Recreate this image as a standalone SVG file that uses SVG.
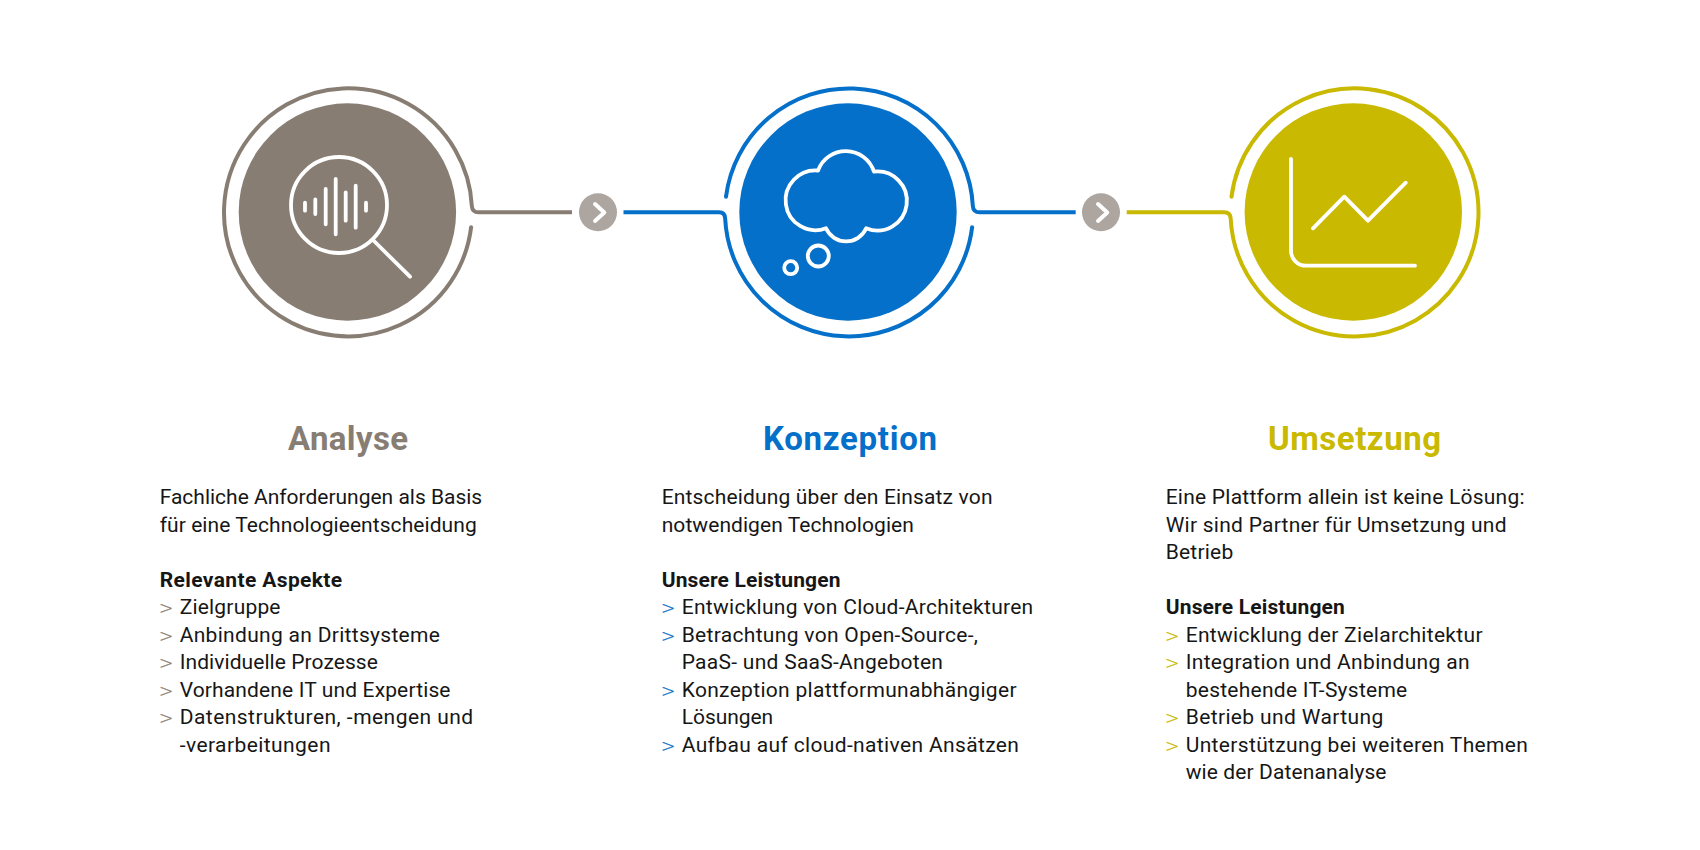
<svg xmlns="http://www.w3.org/2000/svg" width="1700" height="850" viewBox="0 0 1700 850">
<style>
text{font-family:Roboto,"Liberation Sans",sans-serif;font-size:21px;fill:#161616}
.h{font-size:33px;font-weight:700;text-anchor:middle}
.b{font-weight:700}
.m{font-family:"DejaVu Sans",sans-serif;font-weight:200;font-size:17px;stroke-width:.35}
.br{fill:#887d73;stroke:#887d73}.bl{fill:#0570c9;stroke:#0570c9}.ol{fill:#c9b900;stroke:#c9b900}
.h.br,.h.bl,.h.ol{stroke:none}
.ring{fill:none;stroke-width:4;stroke-linejoin:round}
.ic{fill:none;stroke:#fff;stroke-width:3.8;stroke-linecap:round;stroke-linejoin:round}
.chev{fill:none;stroke:#fff;stroke-width:4;stroke-linecap:round;stroke-linejoin:round}
</style>
<rect width="1700" height="850" fill="#fff"/>
<g id="connectors">
<path class="ring" stroke="#887d73" d="M471.1 227.3A124 124 0 1 1 471.84 206Q472.3 212.3 478.5 212.3H572"/>
<path class="ring" stroke="#0570c9" d="M726 196.7A124 124 0 0 1 972.84 206Q973.3 212.3 979.5 212.3H1075.7"/>
<path class="ring" stroke="#0570c9" d="M623.5 212.3H719Q724.9 212.3 725.15 218.5A124 124 0 0 0 972.1 227.3"/>
<path class="ring" stroke="#c9b900" d="M1126.7 212.3H1224Q1230.3 212.3 1230.65 218.5A124 124 0 1 0 1231.5 196.7"/>
<circle cx="471.1" cy="227.3" r="2" fill="#887d73"/>
<circle cx="726" cy="196.7" r="2" fill="#0570c9"/>
<circle cx="972.1" cy="227.3" r="2" fill="#0570c9"/>
<circle cx="1231.5" cy="196.7" r="2" fill="#c9b900"/>
</g>
<g id="next-1">
<circle cx="598" cy="212.3" r="19" fill="#ada59f"/>
<path class="chev" d="M595 204L604.3 212.5L595 221"/>
</g>
<g id="next-2">
<circle cx="1101" cy="212.3" r="19" fill="#ada59f"/>
<path class="chev" d="M1098 204L1107.3 212.5L1098 221"/>
</g>
<g id="analyse">
<circle cx="347.4" cy="212" r="108.7" fill="#887d73"/>
<circle class="ic" cx="339" cy="205" r="48"/>
<path class="ic" d="M374 241L410 276.7M305 202.7V210.7M315.3 199.3V214M325.7 189V224.3M335.7 179V234.3M345.7 192.3V220.7M355.7 185.7V227.7M366 202.7V210.7"/>
<text class="h br" x="348" y="449.8" textLength="120">Analyse</text>
<text x="159.7" y="504" textLength="322.5">Fachliche Anforderungen als Basis</text>
<text x="159.7" y="531.5" textLength="317">für eine Technologieentscheidung</text>
<text class="b" x="159.7" y="586.5" textLength="182.5">Relevante Aspekte</text>
<text class="m br" x="159" y="614">&gt;</text>
<text class="m br" x="159" y="641.5">&gt;</text>
<text class="m br" x="159" y="669">&gt;</text>
<text class="m br" x="159" y="696.5">&gt;</text>
<text class="m br" x="159" y="724">&gt;</text>
<text x="179.7" y="614" textLength="100.8">Zielgruppe</text>
<text x="179.7" y="641.5" textLength="260.2">Anbindung an Drittsysteme</text>
<text x="179.7" y="669" textLength="198.2">Individuelle Prozesse</text>
<text x="179.7" y="696.5" textLength="270.8">Vorhandene IT und Expertise</text>
<text x="179.7" y="724" textLength="293.5">Datenstrukturen, -mengen und</text>
<text x="179.7" y="751.5" textLength="150.8">-verarbeitungen</text>
</g>
<g id="konzeption">
<circle cx="848" cy="212" r="108.7" fill="#0570c9"/>
<path class="ic" d="M818 170.5A29.6 29.6 0 0 1 874 171.7A29.5 29.5 0 1 1 866.2 228.3A22 22 0 0 1 826 228.3A29.9 29.9 0 1 1 818 170.5Z"/>
<circle class="ic" cx="818.3" cy="256" r="10.5"/>
<circle class="ic" cx="790.7" cy="267.7" r="6.5"/>
<text class="h bl" x="850" y="449.8" textLength="174">Konzeption</text>
<text x="661.7" y="504" textLength="330.8">Entscheidung über den Einsatz von</text>
<text x="661.7" y="531.5" textLength="252.2">notwendigen Technologien</text>
<text class="b" x="661.7" y="586.5" textLength="178.8">Unsere Leistungen</text>
<text class="m bl" x="661" y="614">&gt;</text>
<text class="m bl" x="661" y="641.5">&gt;</text>
<text class="m bl" x="661" y="696.5">&gt;</text>
<text class="m bl" x="661" y="751.5">&gt;</text>
<text x="681.7" y="614" textLength="351.5">Entwicklung von Cloud-Architekturen</text>
<text x="681.7" y="641.5" textLength="296.2">Betrachtung von Open-Source-,</text>
<text x="681.7" y="669" textLength="261.2">PaaS- und SaaS-Angeboten</text>
<text x="681.7" y="696.5" textLength="334.8">Konzeption plattformunabhängiger</text>
<text x="681.7" y="724" textLength="91.5">Lösungen</text>
<text x="681.7" y="751.5" textLength="337.2">Aufbau auf cloud-nativen Ansätzen</text>
</g>
<g id="umsetzung">
<circle cx="1353.3" cy="212" r="108.7" fill="#c9b900"/>
<path class="ic" d="M1291 159V250.7A15 15 0 0 0 1306 265.7H1415M1313 228.3L1344.3 196.7L1368 220.7L1405.7 182.7"/>
<text class="h ol" x="1354.5" y="449.8" textLength="173">Umsetzung</text>
<text x="1165.7" y="504" textLength="358.8">Eine Plattform allein ist keine Lösung:</text>
<text x="1165.7" y="531.5" textLength="340.8">Wir sind Partner für Umsetzung und</text>
<text x="1165.7" y="559" textLength="67.5">Betrieb</text>
<text class="b" x="1165.7" y="614" textLength="179.2">Unsere Leistungen</text>
<text class="m ol" x="1165" y="641.5">&gt;</text>
<text class="m ol" x="1165" y="669">&gt;</text>
<text class="m ol" x="1165" y="724">&gt;</text>
<text class="m ol" x="1165" y="751.5">&gt;</text>
<text x="1185.7" y="641.5" textLength="296.8">Entwicklung der Zielarchitektur</text>
<text x="1185.7" y="669" textLength="283.8">Integration und Anbindung an</text>
<text x="1185.7" y="696.5" textLength="221.5">bestehende IT-Systeme</text>
<text x="1185.7" y="724" textLength="197.5">Betrieb und Wartung</text>
<text x="1185.7" y="751.5" textLength="342.2">Unterstützung bei weiteren Themen</text>
<text x="1185.7" y="779" textLength="200.8">wie der Datenanalyse</text>
</g>
</svg>
